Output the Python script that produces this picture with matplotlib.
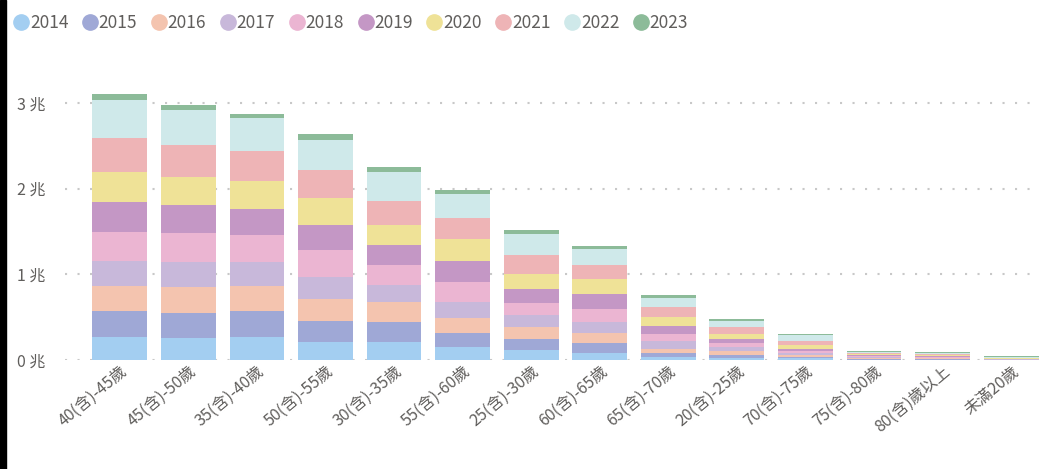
import matplotlib.pyplot as plt
import matplotlib.patches as mpatches
from matplotlib.lines import Line2D
import numpy as np

plt.rcParams['font.family'] = ['Noto Sans CJK TC', 'DejaVu Sans']

# 年齡層
categories = ['40(含)-45歲', '45(含)-50歲', '35(含)-40歲', '50(含)-55歲', '30(含)-35歲',
              '55(含)-60歲', '25(含)-30歲', '60(含)-65歲', '65(含)-70歲', '20(含)-25歲',
              '70(含)-75歲', '75(含)-80歲', '80(含)歲以上', '未滿20歲']

years = ['2014', '2015', '2016', '2017', '2018', '2019', '2020', '2021', '2022', '2023']

# 單位: 兆
v2014 = [0.272, 0.260, 0.272, 0.214, 0.214, 0.148, 0.117, 0.086, 0.031, 0.023, 0.020, 0.005, 0.004, 0.001]
v2015 = [0.296, 0.292, 0.296, 0.245, 0.229, 0.171, 0.124, 0.108, 0.047, 0.031, 0.020, 0.008, 0.006, 0.001]
v2016 = [0.295, 0.296, 0.295, 0.249, 0.234, 0.171, 0.140, 0.125, 0.054, 0.047, 0.022, 0.010, 0.008, 0.002]
v2017 = [0.292, 0.296, 0.281, 0.264, 0.202, 0.187, 0.140, 0.124, 0.093, 0.047, 0.024, 0.010, 0.008, 0.003]
v2018 = [0.342, 0.338, 0.311, 0.312, 0.233, 0.233, 0.140, 0.156, 0.078, 0.046, 0.015, 0.012, 0.009, 0.004]
v2019 = [0.343, 0.327, 0.311, 0.295, 0.234, 0.249, 0.171, 0.171, 0.094, 0.047, 0.031, 0.012, 0.010, 0.005]
v2020 = [0.357, 0.326, 0.323, 0.308, 0.229, 0.249, 0.171, 0.171, 0.109, 0.062, 0.047, 0.012, 0.010, 0.005]
v2021 = [0.390, 0.374, 0.346, 0.326, 0.284, 0.249, 0.218, 0.171, 0.109, 0.078, 0.046, 0.013, 0.011, 0.006]
v2022 = [0.447, 0.405, 0.385, 0.354, 0.338, 0.280, 0.246, 0.186, 0.112, 0.078, 0.063, 0.017, 0.015, 0.010]
v2023 = [0.066, 0.062, 0.050, 0.066, 0.051, 0.047, 0.050, 0.028, 0.028, 0.016, 0.015, 0.010, 0.008, 0.006]

series = [v2014, v2015, v2016, v2017, v2018, v2019, v2020, v2021, v2022, v2023]
colors = ['#A3CEF1', '#9FA8D6', '#F4C4AF', '#C8B8DA', '#EBB5D2',
          '#C497C5', '#EFE297', '#EEB4B6', '#CFE9EA', '#8CBB99']

fig = plt.figure(figsize=(10.51, 4.69), dpi=100)
ax = fig.add_axes([0.0618, 0.2324, 0.9277, 0.5846])

x = np.arange(len(categories))
bottom = np.zeros(len(categories))
for vals, c in zip(series, colors):
    ax.bar(x, vals, 0.8, bottom=bottom, color=c, edgecolor='none', zorder=3)
    bottom += np.array(vals)

ax.set_xlim(-0.8, 13.42)
ax.set_ylim(0, 3.2)
ax.set_yticks([0, 1, 2, 3])
ax.set_yticklabels(['0 兆', '1 兆', '2 兆', '3 兆'])
ax.grid(axis='y', color='#C8C8C8', linestyle=(0, (1, 5)), linewidth=1.5, zorder=0)
for s in ax.spines.values():
    s.set_visible(False)
ax.tick_params(axis='both', length=0, colors='#605E5C', labelsize=11.5)
ax.tick_params(axis='y', pad=14)
ax.tick_params(axis='x', pad=2)
ax.set_xticks(x)
ax.set_xticklabels(categories, rotation=40, ha='right', rotation_mode='anchor')

handles = [Line2D([], [], marker='o', linestyle='', markersize=11, color=c) for c in colors]
leg = fig.legend(handles, years, loc='upper left', bbox_to_anchor=(-0.003, 1.003), ncol=10,
                 frameon=False, handletextpad=0.0, columnspacing=0.75, fontsize=12.5,
                 handlelength=1.0)
for t in leg.get_texts():
    t.set_color('#605E5C')

# 左側黑邊
fig.patches.append(mpatches.Rectangle((0, 0), 6 / 1051, 1, transform=fig.transFigure,
                                      color='black', zorder=10))

fig.savefig('out.png', dpi=100)
